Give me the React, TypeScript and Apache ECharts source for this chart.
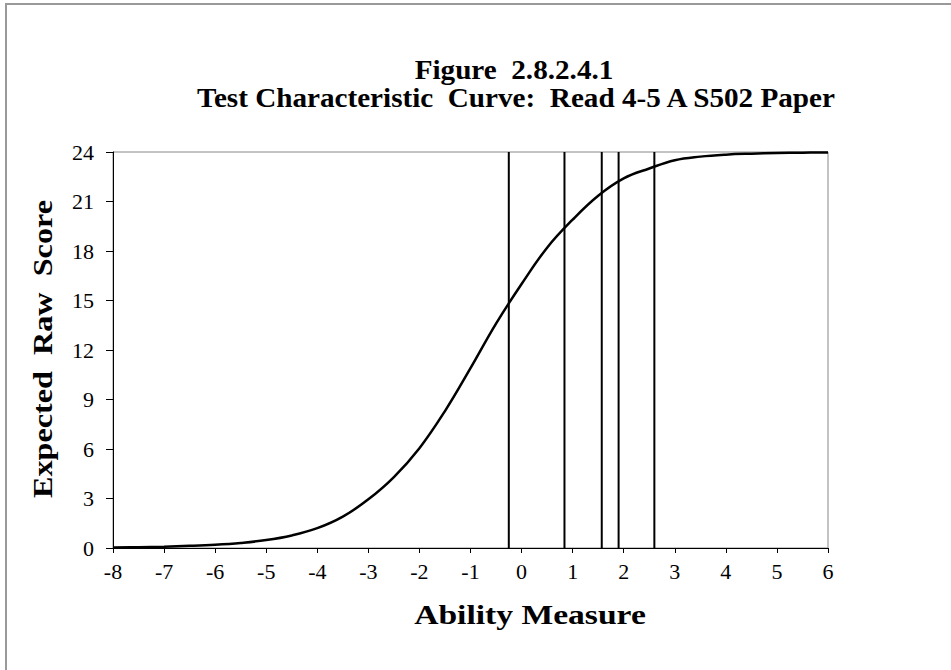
import React, { useEffect, useRef } from "react";
import * as echarts from "echarts";

const abilityX = [-8, -7.5, -7, -6.5, -6, -5.5, -5, -4.5, -4, -3.5, -3, -2.5, -2, -1.5, -1, -0.5, 0, 0.5, 1, 1.5, 2, 2.5, 3, 3.5, 4, 4.5, 5, 5.5, 6];
const expectedScore = [0.03, 0.05, 0.08, 0.13, 0.2, 0.31, 0.48, 0.76, 1.2, 1.9, 2.95, 4.3, 6.05, 8.3, 10.9, 13.6, 16.0, 18.2, 19.9, 21.35, 22.4, 23.0, 23.5, 23.72, 23.84, 23.9, 23.94, 23.96, 23.97];
const cutPoints = [-0.25, 0.84, 1.57, 1.9, 2.6];
const xTicks = { min: -8, max: 6, step: 1 };
const yTicks = { min: 0, max: 24, step: 3 };
const titleLines = ["Figure  2.8.2.4.1", "Test Characteristic  Curve:  Read 4-5 A S502 Paper"];
const xName = "Ability Measure";
const yName = "Expected  Raw  Score";

const FONT = '"Liberation Serif", "Times New Roman", serif';

export default function App() {
  const ref = useRef<HTMLDivElement>(null);
  useEffect(() => {
    if (!ref.current) return;
    const chart = echarts.init(ref.current, null, { renderer: "svg" });
    const curve = abilityX.map((x, i) => [x, expectedScore[i]]);
    const cutSeries = cutPoints.map((c) => ({
      type: "line",
      data: [[c, yTicks.min], [c, yTicks.max]],
      showSymbol: false,
      symbol: "none",
      lineStyle: { color: "#000", width: 2 },
      silent: true,
      z: 3,
    }));
    chart.setOption({
      animation: false,
      backgroundColor: "#fff",
      grid: {
        left: 113,
        top: 152,
        right: 123,
        bottom: 122,
        show: true,
        borderColor: "#888",
        borderWidth: 1,
        backgroundColor: "transparent",
      },
      xAxis: {
        type: "value",
        min: xTicks.min,
        max: xTicks.max,
        interval: xTicks.step,
        axisLine: { show: true, onZero: false, lineStyle: { color: "#000", width: 1 } },
        axisTick: { show: true, inside: false, length: 5, lineStyle: { color: "#000" } },
        axisLabel: { fontFamily: FONT, fontSize: 22, color: "#000", margin: 12 },
        splitLine: { show: false },
      },
      yAxis: {
        type: "value",
        min: yTicks.min,
        max: yTicks.max,
        interval: yTicks.step,
        axisLine: { show: true, onZero: false, lineStyle: { color: "#000", width: 1 } },
        axisTick: { show: true, inside: false, length: 7, lineStyle: { color: "#000" } },
        axisLabel: { fontFamily: FONT, fontSize: 22, color: "#000", margin: 19 },
        splitLine: { show: false },
      },
      series: [
        {
          type: "line",
          data: curve,
          smooth: 0.4,
          showSymbol: false,
          symbol: "none",
          lineStyle: { color: "#000", width: 2.5 },
          z: 4,
        },
        ...cutSeries,
      ],
      graphic: [
        {
          type: "rect",
          shape: { x: 6, y: 4, width: 1000, height: 720 },
          style: { fill: "none", stroke: "#999", lineWidth: 2 },
          z: -1,
          silent: true,
        },
        {
          type: "text",
          x: 514,
          y: 70,
          scaleX: 1.08,
          style: { text: titleLines[0], font: `bold 27px ${FONT}`, fill: "#000", align: "center", verticalAlign: "middle" },
        },
        {
          type: "text",
          x: 516,
          y: 98,
          scaleX: 1.08,
          style: { text: titleLines[1], font: `bold 27px ${FONT}`, fill: "#000", align: "center", verticalAlign: "middle" },
        },
        {
          type: "text",
          x: 530,
          y: 614,
          scaleX: 1.2,
          style: { text: xName, font: `bold 28px ${FONT}`, fill: "#000", align: "center", verticalAlign: "middle" },
        },
        {
          type: "text",
          x: 43,
          y: 349,
          rotation: Math.PI / 2,
          scaleX: 1.15,
          style: { text: yName, font: `bold 28px ${FONT}`, fill: "#000", align: "center", verticalAlign: "middle" },
        },
      ],
    });
    return () => chart.dispose();
  }, []);
  return (
    <div
      ref={ref}
      style={{ position: "fixed", left: 0, top: 0, width: 951, height: 670 }}
    />
  );
}
